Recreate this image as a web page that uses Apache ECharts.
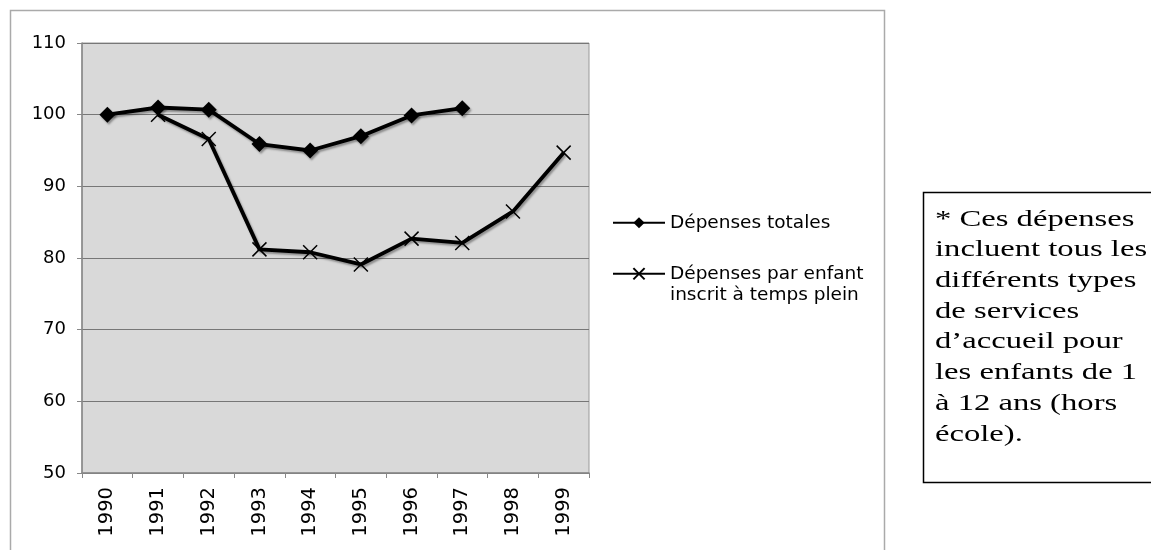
<!DOCTYPE html>
<html><head><meta charset="utf-8">
<script src="https://cdn.jsdelivr.net/npm/echarts@6/dist/echarts.min.js"></script>
<style>html,body{margin:0;padding:0;background:#fff}#c{width:1151px;height:550px}</style>
</head><body><div id="c"></div>
<script>
const years = ['1990','1991','1992','1993','1994','1995','1996','1997','1998','1999'];
const totalName = 'Dépenses totales';
const perChildName = 'Dépenses par enfant\ninscrit à temps plein';
const totalValues = [100, 101, 100.7, 95.9, 95.0, 97.0, 99.9, 100.9, null, null];
const perChildValues = [null, 100, 96.6, 81.2, 80.8, 79.1, 82.7, 82.1, 86.5, 94.7];
const yTicks = [50, 60, 70, 80, 90, 100, 110];
const noteLines = ['* Ces dépenses','incluent tous les','différents types','de services','d\u2019accueil pour','les enfants de 1','à 12 ans (hors','école).'];

const chart = echarts.init(document.getElementById('c'));
const cross = 'path://M0,0L10,10M10,0L0,10';
const shadow = {shadowColor:'rgba(0,0,0,0.35)', shadowBlur:2, shadowOffsetX:1.5, shadowOffsetY:2};
chart.setOption({
  animation:false,
  backgroundColor:'#fff',
  textStyle:{fontFamily:'DejaVu Sans'},
  grid:{left:82, top:43, width:507, height:430, show:true, backgroundColor:'#d9d9d9', borderColor:'#999', borderWidth:1},
  xAxis:{type:'category', data:years, boundaryGap:true,
    axisLine:{lineStyle:{color:'#888', width:1.5}},
    axisTick:{show:true, length:5, lineStyle:{color:'#888'}},
    axisLabel:{rotate:90, color:'#000', fontSize:19.5, margin:14, fontFamily:'DejaVu Sans'}},
  yAxis:{type:'value', min:yTicks[0], max:yTicks[yTicks.length-1], interval:10,
    axisLine:{show:true, lineStyle:{color:'#888', width:1.5}},
    axisTick:{show:true, length:5, lineStyle:{color:'#888'}},
    splitLine:{lineStyle:{color:'#777', width:1}},
    axisLabel:{color:'#000', fontSize:18, margin:16, fontFamily:'DejaVu Sans'}},
  legend:{orient:'vertical', left:607, top:207, itemGap:8, itemWidth:52, itemHeight:14,
    textStyle:{fontSize:18.5, color:'#000', fontFamily:'DejaVu Sans', lineHeight:21.5},
    formatter:function(n){ return n.indexOf('\n') >= 0 ? '\n' + n : n; },
    data:[{name:totalName},{name:perChildName}]},
  series:[
    {name:totalName, type:'line', data:totalValues, symbol:'diamond', symbolSize:16,
     lineStyle:Object.assign({color:'#000', width:3.8}, shadow),
     itemStyle:Object.assign({color:'#000'}, shadow), connectNulls:false},
    {name:perChildName, type:'line', data:perChildValues, symbol:cross, symbolSize:14,
     lineStyle:Object.assign({color:'#000', width:3.8}, shadow),
     itemStyle:{color:'rgba(0,0,0,0)', borderColor:'#000', borderWidth:1.5}, connectNulls:false}
  ],
  graphic:[
    {type:'rect', shape:{x:10.5, y:10.5, width:874, height:560}, style:{fill:'none', stroke:'#aaa', lineWidth:1.5}, silent:true, z:-10},
    {type:'rect', shape:{x:923.5, y:192.5, width:240, height:290}, style:{fill:'#fff', stroke:'#000', lineWidth:1.5}},
    {type:'text', x:935, y:204, scaleX:1.36, style:{text:noteLines.join('\n'), fontFamily:'Liberation Serif', fontSize:24, lineHeight:30.7, fill:'#000'}}
  ]
});
</script></body></html>
